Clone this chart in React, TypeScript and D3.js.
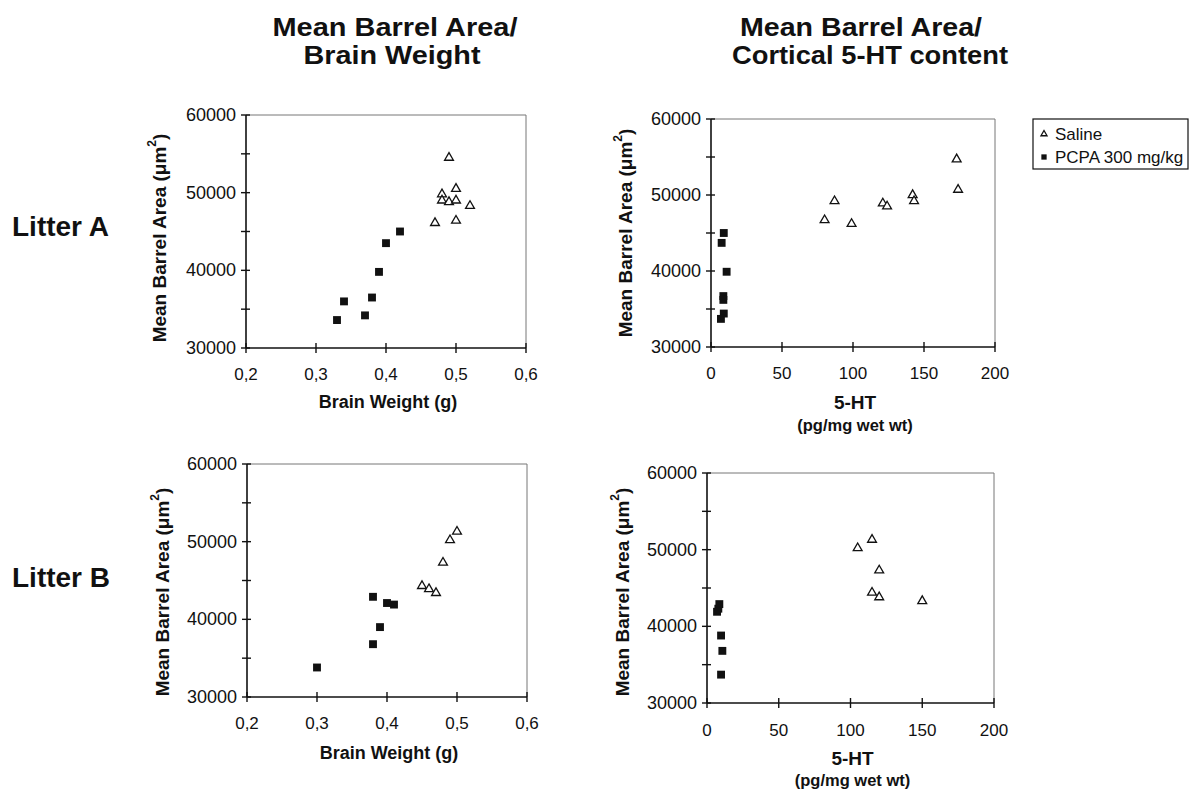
import * as d3 from "d3";
import React from "react";

const W = 1193;
const H = 792;
const FONT = "'Liberation Sans', Arial, Helvetica, sans-serif";

// axis ticks
const bwTicks = [0.2, 0.3, 0.4, 0.5, 0.6];
const htTicks = [0, 50, 100, 150, 200];
const areaTicks = [30000, 40000, 50000, 60000];
const areaMinor = [35000, 45000, 55000];

// Litter A - brain weight
const salineA_bw = [0.49, 0.48, 0.48, 0.49, 0.5, 0.5, 0.52, 0.47, 0.5];
const salineA_bwArea = [54500, 49800, 49000, 48800, 50500, 49000, 48300, 46100, 46400];
const pcpaA_bw = [0.33, 0.34, 0.37, 0.38, 0.39, 0.4, 0.42];
const pcpaA_bwArea = [33600, 36000, 34200, 36500, 39800, 43500, 45000];

// Litter A - 5-HT
const salineA_ht = [80, 87, 99, 121, 124, 142, 143, 173, 174];
const salineA_htArea = [46700, 49200, 46200, 48900, 48500, 50000, 49200, 54700, 50700];
const pcpaA_ht = [9, 7.5, 11, 8.7, 8.7, 9, 7];
const pcpaA_htArea = [45000, 43700, 39900, 36700, 36200, 34400, 33700];

// Litter B - brain weight
const salineB_bw = [0.45, 0.46, 0.47, 0.48, 0.49, 0.5];
const salineB_bwArea = [44300, 43900, 43400, 47300, 50200, 51300];
const pcpaB_bw = [0.3, 0.38, 0.38, 0.39, 0.4, 0.41];
const pcpaB_bwArea = [33800, 42900, 36800, 39000, 42100, 41900];

// Litter B - 5-HT
const salineB_ht = [105, 115, 120, 115, 120, 150];
const salineB_htArea = [50200, 51300, 47300, 44400, 43800, 43300];
const pcpaB_ht = [8.6, 7.9, 7, 9.8, 10.7, 9.8];
const pcpaB_htArea = [42900, 42300, 41900, 38800, 36800, 33700];

const zip = (xs: number[], ys: number[]) => xs.map((x, i) => [x, ys[i]] as [number, number]);

const triPath = d3.symbol(d3.symbolTriangle, 34)() as string;
const sqPath = d3.symbol(d3.symbolSquare, 62)() as string;

type PanelProps = {
  box: [number, number, number, number]; // left, right, top, bottom
  xTicks: number[];
  xFmt: (v: number) => string;
  saline: [number, number][];
  pcpa: [number, number][];
  yLabel: [number, number];
  xTitle: string[];
  xTitleY: number[];
  xTitleSize: number[];
  tickGap: number;
};

const Panel = ({box, xTicks, xFmt, saline, pcpa, yLabel, xTitle, xTitleY, xTitleSize, tickGap}: PanelProps) => {
  const [l, r, t, b] = box;
  const x = d3.scaleLinear().domain(d3.extent(xTicks) as [number, number]).range([l, r]);
  const y = d3.scaleLinear().domain([30000, 60000]).range([b, t]);
  const cx = (l + r) / 2 + 2;
  return (
    <g>
      {/* frame */}
      <line x1={l} x2={r} y1={t} y2={t} stroke="#777" strokeWidth={1} />
      <line x1={r} x2={r} y1={t} y2={b} stroke="#777" strokeWidth={1} />
      <line x1={l} x2={l} y1={t} y2={b} stroke="#111" strokeWidth={1.6} />
      <line x1={l} x2={r} y1={b} y2={b} stroke="#111" strokeWidth={1.6} />
      {areaTicks.concat(areaMinor).map((v) => (
        <line key={"yt" + v} x1={l - 5} x2={l + 4} y1={y(v)} y2={y(v)} stroke="#111" strokeWidth={1.4} />
      ))}
      {areaTicks.map((v) => (
        <text key={"yl" + v} x={l - 10} y={y(v)} textAnchor="end" dominantBaseline="central"
              fontSize={18} fontFamily={FONT} fill="#111">{v}</text>
      ))}
      {xTicks.map((v) => (
        <g key={"xt" + v}>
          <line x1={x(v)} x2={x(v)} y1={b - 5} y2={b + 5} stroke="#111" strokeWidth={1.4} />
          <text x={x(v)} y={b + tickGap} textAnchor="middle" dominantBaseline="central"
                fontSize={17} fontFamily={FONT} fill="#111">{xFmt(v)}</text>
        </g>
      ))}
      {pcpa.map(([a, v], i) => (
        <path key={"p" + i} d={sqPath} transform={`translate(${x(a)},${y(v)})`} fill="#111" />
      ))}
      {saline.map(([a, v], i) => (
        <path key={"s" + i} d={triPath} transform={`translate(${x(a)},${y(v)})`}
              fill="white" stroke="#111" strokeWidth={1.3} />
      ))}
      <text transform={`translate(${yLabel[0]},${yLabel[1]}) rotate(-90)`} textAnchor="middle"
            dominantBaseline="central" fontSize={19} fontWeight="bold" fontFamily={FONT} fill="#111">
        Mean Barrel Area (μm<tspan baselineShift="super" fontSize={12}>2</tspan>)
      </text>
      {xTitle.map((s, i) => (
        <text key={"xl" + i} x={cx} y={xTitleY[i]} textAnchor="middle" dominantBaseline="central"
              fontSize={xTitleSize[i]} fontWeight="bold" fontFamily={FONT} fill="#111">{s}</text>
      ))}
    </g>
  );
};

const commaFmt = (v: number) => d3.format(".1f")(v).replace(".", ",");
const intFmt = (v: number) => String(v);

export default function App() {
  return (
    <div style={{position: "absolute", left: 0, top: 0}}>
      <svg width={W} height={H} style={{display: "block", background: "white"}}>
        {/* column titles (stretched to the reference widths) */}
        <g fontFamily={FONT} fontWeight="bold" fontSize={25} fill="#111" textAnchor="middle">
          <text x={395} y={36} textLength={245} lengthAdjust="spacingAndGlyphs">Mean Barrel Area/</text>
          <text x={392} y={64} textLength={177} lengthAdjust="spacingAndGlyphs">Brain Weight</text>
          <text x={861} y={36} textLength={242} lengthAdjust="spacingAndGlyphs">Mean Barrel Area/</text>
          <text x={870} y={64} textLength={276} lengthAdjust="spacingAndGlyphs">Cortical 5-HT content</text>
        </g>
        {/* row labels */}
        <g fontFamily={FONT} fontWeight="bold" fontSize={28} fill="#111">
          <text x={12} y={236}>Litter A</text>
          <text x={12} y={587}>Litter B</text>
        </g>

        <Panel box={[246, 526, 115, 348]} xTicks={bwTicks} xFmt={commaFmt}
               saline={zip(salineA_bw, salineA_bwArea)} pcpa={zip(pcpaA_bw, pcpaA_bwArea)}
               yLabel={[159, 238]} xTitle={["Brain Weight (g)"]} xTitleY={[402]} xTitleSize={[18]} tickGap={26} />
        <Panel box={[711, 995, 119, 347]} xTicks={htTicks} xFmt={intFmt}
               saline={zip(salineA_ht, salineA_htArea)} pcpa={zip(pcpaA_ht, pcpaA_htArea)}
               yLabel={[625, 233]} xTitle={["5-HT", "(pg/mg wet wt)"]} xTitleY={[402, 425]} xTitleSize={[19, 16.5]} tickGap={26} />
        <Panel box={[247, 527, 464, 697]} xTicks={bwTicks} xFmt={commaFmt}
               saline={zip(salineB_bw, salineB_bwArea)} pcpa={zip(pcpaB_bw, pcpaB_bwArea)}
               yLabel={[162, 592]} xTitle={["Brain Weight (g)"]} xTitleY={[753]} xTitleSize={[18]} tickGap={26} />
        <Panel box={[707, 994, 473, 703]} xTicks={htTicks} xFmt={intFmt}
               saline={zip(salineB_ht, salineB_htArea)} pcpa={zip(pcpaB_ht, pcpaB_htArea)}
               yLabel={[622, 592]} xTitle={["5-HT", "(pg/mg wet wt)"]} xTitleY={[758, 780]} xTitleSize={[19, 16.5]} tickGap={27} />

        {/* legend */}
        <g fontFamily={FONT} fontSize={17} fill="#111">
          <rect x={1033} y={119} width={155} height={50} fill="white" stroke="#111" strokeWidth={1.2} />
          <path d={d3.symbol(d3.symbolTriangle, 16)() as string} transform="translate(1044,134)"
                fill="white" stroke="#111" strokeWidth={1.3} />
          <text x={1055} y={134} dominantBaseline="central">Saline</text>
          <path d={d3.symbol(d3.symbolSquare, 28)() as string} transform="translate(1044,157)" fill="#111" />
          <text x={1055} y={157} dominantBaseline="central">PCPA 300 mg/kg</text>
        </g>
      </svg>
    </div>
  );
}
